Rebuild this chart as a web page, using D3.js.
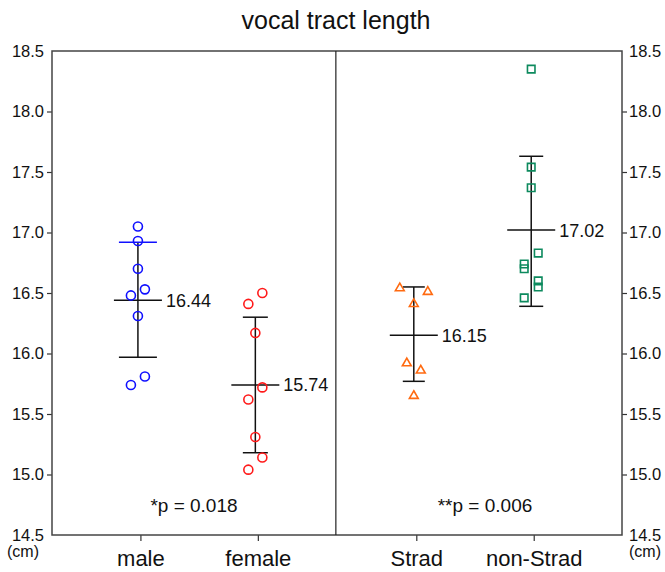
<!DOCTYPE html>
<html>
<head>
<meta charset="utf-8">
<script src="https://cdn.jsdelivr.net/npm/d3@7"></script>
<style>
  body { margin: 0; background: #fff; }
  text { font-family: "Liberation Sans", Arial, sans-serif; fill: #111; }
</style>
</head>
<body>
<div id="chart"></div>
<script>
// groups, in display order
const groups = ['male', 'female', 'Strad', 'non-Strad'];
const groupSlot = [0.78, 1.81, 3.2, 4.23];

// individual measurements (cm) and their jitter column (-2..2)
const maleValues = [17.05, 16.93, 16.70, 16.53, 16.48, 16.31, 15.81, 15.74];
const maleJitter = [0, 0, 0, 1, -1, 0, 1, -1];
const femaleValues = [16.50, 16.41, 16.17, 15.72, 15.62, 15.31, 15.14, 15.04];
const femaleJitter = [1, -1, 0, 1, -1, 0, 1, -1];
const stradValues = [16.54, 16.51, 16.41, 15.92, 15.86, 15.65];
const stradJitter = [-2, 2, 0, -1, 1, 0];
const nonStradValues = [18.35, 17.54, 17.37, 16.83, 16.74, 16.70, 16.60, 16.55, 16.46];
const nonStradJitter = [0, 0, 0, 1, -1, -1, 1, 1, -1];

// mean and error bar ends
const means = [16.44, 15.74, 16.15, 17.02];
const barUpper = [16.92, 16.30, 16.55, 17.63];
const barLower = [15.97, 15.18, 15.77, 16.39];

const pValues = ['*p = 0.018', '**p = 0.006'];
const yTicks = [14.5, 15.0, 15.5, 16.0, 16.5, 17.0, 17.5, 18.0, 18.5];

const width = 665;
const height = 572;
const plotLeft = 52, plotRight = 622, plotTop = 51, plotBottom = 535;

const colors = ['#1010ff', '#ff1a1a', '#ff6a10', '#0d8a5e'];
const shapes = ['circle', 'circle', 'triangle', 'square'];
const capHalf = [19, 12.5, 11, 12];

const svg = d3.select('#chart')
  .append('svg')
  .attr('width', width)
  .attr('height', height);

const x = d3.scaleLinear().domain([0, 5]).range([plotLeft, plotRight]);
const y = d3.scaleLinear().domain([14.5, 18.5]).range([plotBottom, plotTop]);
const jitterStep = 7;

// title
svg.append('text')
  .attr('x', 336)
  .attr('y', 29)
  .attr('text-anchor', 'middle')
  .style('font-size', '25px')
  .text('vocal tract length');

// axes
const fmt = d3.format('.1f');
svg.append('g')
  .attr('transform', `translate(${plotLeft},0)`)
  .call(d3.axisLeft(y).tickValues(yTicks).tickFormat(fmt).tickSize(5).tickPadding(3))
  .call(g => g.select('.domain').remove());
svg.append('g')
  .attr('transform', `translate(${plotRight},0)`)
  .call(d3.axisRight(y).tickValues(yTicks).tickFormat(fmt).tickSize(5).tickPadding(2))
  .call(g => g.select('.domain').remove());

svg.selectAll('.tick line').attr('stroke', '#333').attr('stroke-width', 1.2);
svg.selectAll('.tick text')
  .style('font-size', '16.5px')
  .style('font-family', '"Liberation Sans", Arial, sans-serif')
  .attr('fill', '#222');
// end ticks sit on the frame corners, no tick mark
svg.selectAll('.tick').filter(d => d === 14.5 || d === 18.5).select('line').remove();

// x ticks
svg.selectAll('.x-tick')
  .data(groups)
  .enter()
  .append('line')
  .attr('class', 'x-tick')
  .attr('x1', (d, i) => x(groupSlot[i]))
  .attr('x2', (d, i) => x(groupSlot[i]))
  .attr('y1', plotBottom)
  .attr('y2', plotBottom + 6)
  .attr('stroke', '#333')
  .attr('stroke-width', 1.2);

svg.selectAll('.x-label')
  .data(groups)
  .enter()
  .append('text')
  .attr('class', 'x-label')
  .attr('x', (d, i) => x(groupSlot[i]))
  .attr('y', 566)
  .attr('text-anchor', 'middle')
  .style('font-size', '22px')
  .text(d => d);

// units
svg.append('text').attr('x', 23).attr('y', 557).attr('text-anchor', 'middle')
  .style('font-size', '16px').text('(cm)');
svg.append('text').attr('x', 645).attr('y', 557).attr('text-anchor', 'middle')
  .style('font-size', '16px').text('(cm)');

// frame
svg.append('rect')
  .attr('x', plotLeft)
  .attr('y', plotTop)
  .attr('width', plotRight - plotLeft)
  .attr('height', plotBottom - plotTop)
  .attr('fill', 'none')
  .attr('stroke', '#444')
  .attr('stroke-width', 1.5);

svg.append('line')
  .attr('x1', x(2.49))
  .attr('x2', x(2.49))
  .attr('y1', plotTop)
  .attr('y2', plotBottom)
  .attr('stroke', '#222')
  .attr('stroke-width', 1.2);

// p values
svg.selectAll('.p-label')
  .data(pValues)
  .enter()
  .append('text')
  .attr('class', 'p-label')
  .attr('x', (d, i) => i === 0 ? 194 : 485)
  .attr('y', 512)
  .attr('text-anchor', 'middle')
  .style('font-size', '19px')
  .text(d => d);

// error bars
const bars = groups.map((g, i) => ({
  i, mean: means[i], hi: barUpper[i], lo: barLower[i], cx: x(groupSlot[i]) - 3,
}));

const barG = svg.append('g').attr('stroke', '#111').attr('stroke-width', 1.5);
barG.selectAll('.stem')
  .data(bars)
  .enter()
  .append('line')
  .attr('x1', d => d.cx).attr('x2', d => d.cx)
  .attr('y1', d => y(d.hi)).attr('y2', d => y(d.lo));
barG.selectAll('.cap-hi')
  .data(bars)
  .enter()
  .append('line')
  .attr('x1', d => d.cx - capHalf[d.i]).attr('x2', d => d.cx + capHalf[d.i])
  .attr('y1', d => y(d.hi)).attr('y2', d => y(d.hi))
  .attr('stroke', d => d.i === 0 ? colors[0] : null);
barG.selectAll('.cap-lo')
  .data(bars)
  .enter()
  .append('line')
  .attr('x1', d => d.cx - capHalf[d.i]).attr('x2', d => d.cx + capHalf[d.i])
  .attr('y1', d => y(d.lo)).attr('y2', d => y(d.lo));
barG.selectAll('.mean')
  .data(bars)
  .enter()
  .append('line')
  .attr('x1', d => d.cx - 24).attr('x2', d => d.cx + 24)
  .attr('y1', d => y(d.mean)).attr('y2', d => y(d.mean));

svg.selectAll('.mean-label')
  .data(bars)
  .enter()
  .append('text')
  .attr('class', 'mean-label')
  .attr('x', d => d.cx + 28)
  .attr('y', d => y(d.mean))
  .attr('dy', '0.36em')
  .style('font-size', '18px')
  .text(d => d.mean.toFixed(2));

// points
const allValues = [maleValues, femaleValues, stradValues, nonStradValues];
const allJitter = [maleJitter, femaleJitter, stradJitter, nonStradJitter];
const points = [];
allValues.forEach((vals, i) => {
  vals.forEach((v, k) => points.push({ i, v, j: allJitter[i][k] }));
});

const symbolFor = {
  circle: d3.symbol().type(d3.symbolCircle).size(64)(),
  triangle: d3.symbol().type(d3.symbolTriangle2).size(56)(),
  square: d3.symbol().type(d3.symbolSquare2).size(72)(),
};

svg.append('g')
  .selectAll('path')
  .data(points)
  .enter()
  .append('path')
  .attr('d', d => symbolFor[shapes[d.i]])
  .attr('transform', d => `translate(${x(groupSlot[d.i]) - 3 + d.j * jitterStep},${y(d.v)})`)
  .attr('fill', 'none')
  .attr('stroke', d => colors[d.i])
  .attr('stroke-width', 1.6);
</script>
</body>
</html>
